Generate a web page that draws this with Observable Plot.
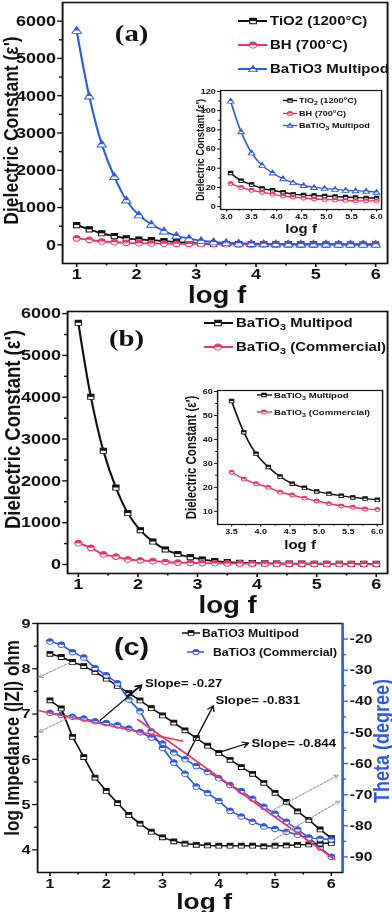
<!DOCTYPE html>
<html>
<head>
<meta charset="utf-8">
<script src="https://cdn.jsdelivr.net/npm/d3@7"></script>
<script src="https://cdn.jsdelivr.net/npm/@observablehq/plot@0.6"></script>
<style>
html,body{margin:0;padding:0;background:#fff;}
#wrap{position:relative;width:326.67px;height:912px;transform:scaleX(1.2);transform-origin:0 0;overflow:visible;}
</style>
</head>
<body>
<div id="wrap"></div>
<script>
// ---------- data ----------
const logfA = [1.00,1.21,1.42,1.63,1.83,2.04,2.25,2.46,2.67,2.88,3.08,3.29,3.50,3.71,3.92,4.13,4.33,4.54,4.75,4.96,5.17,5.38,5.58,5.79,6.00];
const epsTiO2 = [530,415,310,235,175,145,125,100,75,55,35,27,23,19,17,15,13,12,11.5,11,10.5,10,9.5,9,9];
const epsBH = [175,135,90,70,55,45,38,32,28,26,24,20,17,15,13,11,10,9,8,7.5,7,6.5,6,6,6];
const epsMultipodA = [5750,3990,2700,1830,1200,800,550,370,240,170,110,78,56,43,35,29,25,22,20,19,18,17,16.5,16,15];
const epsMultipodB = [5780,4010,2720,1840,1230,820,550,360,250,175,120,80,56,43,34,28.5,24.5,21.5,19.8,18.3,17.3,16.5,15.8,15.3,14.8];
const epsCommercial = [510,400,240,190,120,100,80,60,45,38,33,30,26.3,23.5,21.5,20,18,16.8,15.5,14.3,13.2,12.2,11.7,11,10.8];

const logfC = [1.0,1.2,1.4,1.6,1.8,2.0,2.2,2.4,2.6,2.8,3.0,3.2,3.4,3.6,3.8,4.0,4.2,4.4,4.6,4.8,5.0,5.2,5.4,5.6,5.8,6.0];
const logZMultipod = [8.33,8.26,8.15,8.06,7.93,7.78,7.62,7.46,7.30,7.13,6.97,6.81,6.64,6.47,6.30,6.14,5.99,5.83,5.68,5.48,5.26,5.06,4.85,4.66,4.45,4.26];
const logZCommercial = [7.03,6.98,6.94,6.90,6.84,6.80,6.75,6.68,6.60,6.48,6.35,6.15,6.00,5.85,5.72,5.58,5.43,5.30,5.13,4.95,4.80,4.62,4.45,4.27,4.05,3.85];
const thetaMultipod = [-39.7,-42.3,-51.4,-57.9,-64.5,-68.8,-72.7,-76.5,-79.3,-81.9,-83.7,-85.0,-85.7,-86.1,-86.3,-86.4,-86.4,-86.4,-86.4,-86.6,-86.4,-86.3,-86.1,-86.0,-85.7,-85.5];
const thetaCommercial = [-20.8,-21.8,-24.2,-25.9,-29.3,-31.6,-34.2,-39.4,-43.2,-49.6,-55.0,-59.7,-63.3,-67.4,-69.5,-72.0,-75.2,-77.0,-78.7,-80.2,-81.0,-81.9,-82.9,-83.8,-84.2,-84.4];

const fitLines = [
  {x1: 0.79, y1: 7.08, x2: 3.37, y2: 6.40},
  {x1: 2.55, y1: 6.89, x2: 6.07, y2: 3.78}
];
const slopeNotes = [
  {x: 2.69, y: 7.68, label: "Slope= -0.27"},
  {x: 3.94, y: 7.30, label: "Slope= -0.831"},
  {x: 4.58, y: 6.36, label: "Slope= -0.844"}
];
const noteArrows = [
  {x1: 1.89, y1: 6.86, x2: 2.63, y2: 7.64},
  {x1: 2.37, y1: 7.40, x2: 2.63, y2: 7.64},
  {x1: 3.44, y1: 6.09, x2: 3.90, y2: 7.18},
  {x1: 4.02, y1: 6.16, x2: 4.53, y2: 6.36}
];
const guideArrows = [
  {x1: 1.36, y1: 8.14, x2: 0.80, y2: 7.81},
  {x1: 1.41, y1: 6.97, x2: 0.80, y2: 6.60},
  {x1: 4.86, y1: 4.81, x2: 6.12, y2: 5.65},
  {x1: 4.97, y1: 4.22, x2: 6.15, y2: 5.08}
];

// ticks
const ticksLogf = [1,2,3,4,5,6];
const minorLogf = [1.5,2.5,3.5,4.5,5.5];
const ticksEps = [0,1000,2000,3000,4000,5000,6000];
const minorEps = [500,1500,2500,3500,4500,5500];
const ticksInsetX = [3.0,3.5,4.0,4.5,5.0,5.5,6.0];
const minorInsetX = [3.25,3.75,4.25,4.75,5.25,5.75];
const ticksInsetAY = [0,20,40,60,80,100,120];
const minorInsetAY = [10,30,50,70,90,110];
const ticksInsetBX = [3.5,4.0,4.5,5.0,5.5,6.0];
const ticksInsetBY = [10,20,30,40,50,60];
const minorInsetBY = [15,25,35,45,55];
const ticksZ = [4,5,6,7,8,9];
const minorZ = [4.5,5.5,6.5,7.5,8.5];
const ticksTheta = [-90,-80,-70,-60,-50,-40,-30,-20];
const minorTheta = [-85,-75,-65,-55,-45,-35,-25];

const legendA = ["TiO2 (1200°C)", "BH (700°C)", "BaTiO3 Multipod"];
const legendAInset = ["TiO₂ (1200°C)", "BH (700°C)", "BaTiO₃ Multipod"];
const legendB = ["BaTiO₃ Multipod", "BaTiO₃ (Commercial)"];
const legendC = ["BaTiO3 Multipod", "BaTiO3 (Commercial)"];

// ---------- styling ----------
const S = 1.2, W = 392 / S, X = v => v / S;
const INK = "#111111", RED = "#f4335f", BLUE = "#2f58ec", FIT = "#ff3050", GUIDE = "#93a5a5";
const FONT = "'Liberation Sans', Arial, Helvetica, sans-serif";
const SERIF = "'Liberation Serif', 'DejaVu Serif', serif";
const yTitle = "Dielectric Constant (ε')";
const wrap = document.getElementById("wrap");

function place(svg, left, top) {
  Object.assign(svg.style, {position: "absolute", left: left + "px", top: top + "px", background: "none",
    overflow: "visible", maxWidth: "none", fontFamily: FONT, color: INK});
  wrap.appendChild(svg);
}

function sym(kind, half) {
  return {
    draw(ctx, size) {
      const r = Math.sqrt(size / Math.PI);
      if (kind === "circle") {
        ctx.moveTo(r, 0);
        if (half) ctx.arc(0, 0, r, 0, Math.PI, true); else ctx.arc(0, 0, r, 0, 2 * Math.PI);
        ctx.closePath();
      } else if (kind === "square") {
        const s = r * 0.9;
        if (half) ctx.rect(-s, -s, 2 * s, s); else ctx.rect(-s, -s, 2 * s, 2 * s);
      } else {
        const a = 1.15 * r, b = 0.85 * r;
        if (half) { const w = a * a / (a + b); ctx.moveTo(0, -a); ctx.lineTo(w, 0); ctx.lineTo(-w, 0); }
        else { ctx.moveTo(0, -a); ctx.lineTo(a, b); ctx.lineTo(-a, b); }
        ctx.closePath();
      }
    }
  };
}

function series(xs, ys, color, kind, o = {}) {
  const data = xs.map((x, i) => ({x, y: ys[i]}));
  const r = o.r ?? 2.9;
  return [
    Plot.line(data, {x: "x", y: "y", stroke: color, strokeWidth: o.sw ?? 1.8, curve: o.curve ?? "catmull-rom"}),
    Plot.dot(data, {x: "x", y: "y", r, symbol: sym(kind, false), fill: "white", stroke: color, strokeWidth: 0.9}),
    Plot.dot(data, {x: "x", y: "y", r, symbol: sym(kind, true), fill: color})
  ];
}

function axisSet(o) {
  const common = {fontSize: o.fs, fontWeight: "bold", label: null, strokeWidth: o.sw ?? 1.4, stroke: INK, fill: INK};
  const tick = o.tick ?? 4, minor = o.minor ?? 2.5, pad = o.pad ?? 2;
  return [
    Plot.axisX(o.x, {...common, tickSize: tick, tickPadding: o.xpad ?? pad, tickFormat: o.xFmt ?? (d => String(d))}),
    Plot.axisX(o.xMinor, {...common, tickSize: minor, tickFormat: () => ""}),
    Plot.axisY(o.y, {...common, tickSize: tick, tickPadding: pad, tickFormat: o.yFmt ?? (d => String(d))}),
    Plot.axisY(o.yMinor, {...common, tickSize: minor, tickFormat: () => ""})
  ];
}

const centered = {textAnchor: "middle", lineAnchor: "middle", fontWeight: "bold", fill: INK};
const f1 = d3.format(".1f");

// ---------- panel (a) ----------
place(Plot.plot({
  width: W, height: 300, marginLeft: X(62), marginRight: X(5), marginTop: 2, marginBottom: 37,
  x: {domain: [0.765, 6.2]}, y: {domain: [-500, 6500]},
  marks: [
    Plot.frame({stroke: INK, strokeWidth: 1.6}),
    ...axisSet({x: ticksLogf, xMinor: minorLogf, y: ticksEps, yMinor: minorEps, fs: 15, pad: 1.5, xpad: 0.5}),
    ...series(logfA, epsTiO2, INK, "square"),
    ...series(logfA, epsBH, RED, "circle"),
    ...series(logfA, epsMultipodA, BLUE, "triangle", {r: 3.4}),
    Plot.text([yTitle], {...centered, frameAnchor: "left", rotate: -90, dx: X(11 - 62), dy: -2.5, fontSize: 17.5}),
    Plot.text(["log f"], {...centered, frameAnchor: "bottom", dx: X(-8), dy: 32, fontSize: 23}),
    Plot.text(["(a)"], {...centered, frameAnchor: "top-left", dx: X(131 - 62), dy: 31, fontSize: 24, fontFamily: SERIF})
  ]
}), 0, 0);

// inset (a)
place(Plot.plot({
  width: X(392 - 180), height: 160, marginLeft: X(220 - 180), marginRight: X(392 - 381), marginTop: 10, marginBottom: 31,
  x: {domain: [2.88, 6.1]}, y: {domain: [-3, 121]},
  marks: [
    Plot.frame({fill: "white", stroke: INK, strokeWidth: 1.2}),
    ...axisSet({x: ticksInsetX, xMinor: minorInsetX, y: ticksInsetAY, yMinor: minorInsetAY, fs: 7.5, xFmt: f1, tick: 2.5, minor: 1.5, pad: 1.5, sw: 1}),
    ...series(logfA.slice(10), epsTiO2.slice(10), INK, "square", {r: 2, sw: 1.4}),
    ...series(logfA.slice(10), epsBH.slice(10), RED, "circle", {r: 2, sw: 1.4}),
    ...series(logfA.slice(10), epsMultipodA.slice(10), BLUE, "triangle", {r: 2.4, sw: 1.4}),
    Plot.text([yTitle], {...centered, frameAnchor: "left", rotate: -90, dx: X(200 - 220), fontSize: 9.5}),
    Plot.text(["log f"], {...centered, frameAnchor: "bottom", dy: 20, fontSize: 12.5})
  ]
}), X(180), 80);

// ---------- panel (b) ----------
place(Plot.plot({
  width: W, height: 312, marginLeft: X(67), marginRight: X(5), marginTop: 11, marginBottom: 39,
  x: {domain: [0.82, 6.19]}, y: {domain: [-215, 6050]},
  marks: [
    Plot.frame({stroke: INK, strokeWidth: 1.6}),
    ...axisSet({x: ticksLogf, xMinor: minorLogf, y: ticksEps, yMinor: minorEps, fs: 15, pad: 1.5, xpad: 0.5}),
    ...series(logfA, epsMultipodB, INK, "square"),
    ...series(logfA, epsCommercial, RED, "circle"),
    Plot.text([yTitle], {...centered, frameAnchor: "left", rotate: -90, dx: X(12.5 - 67), dy: -13, fontSize: 18.5}),
    Plot.text(["log f"], {...centered, frameAnchor: "bottom", dy: 32.5, fontSize: 23}),
    Plot.text(["(b)"], {...centered, frameAnchor: "top-left", dx: X(126 - 67), dy: 27, fontSize: 24, fontFamily: SERIF})
  ]
}), 0, 300);

// inset (b)
place(Plot.plot({
  width: X(392 - 180), height: 180, marginLeft: X(217 - 180), marginRight: X(392 - 382), marginTop: 10, marginBottom: 36,
  x: {domain: [3.26, 6.09]}, y: {domain: [4.5, 60.4]},
  marks: [
    Plot.frame({fill: "white", stroke: INK, strokeWidth: 1.2}),
    ...axisSet({x: ticksInsetBX, xMinor: minorInsetX.slice(1), y: ticksInsetBY, yMinor: minorInsetBY, fs: 7.5, xFmt: f1, tick: 2.5, minor: 1.5, pad: 1.5, sw: 1}),
    ...series(logfA.slice(12), epsMultipodB.slice(12), INK, "square", {r: 2, sw: 1.4}),
    ...series(logfA.slice(12), epsCommercial.slice(12), RED, "circle", {r: 2, sw: 1.4}),
    Plot.text([yTitle], {...centered, frameAnchor: "left", rotate: -90, dx: X(191 - 217), fontSize: 11.5}),
    Plot.text(["log f"], {...centered, frameAnchor: "bottom", dy: 21, fontSize: 12.5})
  ]
}), X(180), 380);

// ---------- panel (c) ----------
const cLayout = {width: W, height: 312, marginLeft: X(37), marginRight: X(50), marginTop: 23, marginBottom: 40};
const cx = {domain: [0.78, 6.2]};

place(Plot.plot({
  ...cLayout, x: cx, y: {domain: [3.5, 9]},
  marks: [
    Plot.frame({stroke: INK, strokeWidth: 1.5}),
    Plot.axisX(ticksLogf, {fontSize: 13.5, fontWeight: "bold", label: null, tickSize: 4, tickPadding: 1.5, strokeWidth: 1.3, tickFormat: d => String(d)}),
    Plot.axisX(minorLogf, {label: null, tickSize: 2.5, strokeWidth: 1.3, tickFormat: () => ""}),
    Plot.axisY(ticksZ, {fontSize: 13.5, fontWeight: "bold", label: null, tickSize: 4, tickPadding: 2, strokeWidth: 1.3, tickFormat: d => String(d)}),
    Plot.axisY(minorZ, {label: null, tickSize: 2.5, strokeWidth: 1.3, tickFormat: () => ""}),
    ...series(logfC, logZMultipod, INK, "square", {r: 2.7, sw: 1.5, curve: "linear"}),
    ...series(logfC, logZCommercial, BLUE, "circle", {r: 2.8, sw: 1.5, curve: "linear"}),
    Plot.text(["log Impedance (|Z|) ohm"], {...centered, frameAnchor: "left", rotate: -90, dx: X(11.5 - 37), dy: -10, fontSize: 17}),
    Plot.text(["log f"], {...centered, frameAnchor: "bottom", dx: X(14), dy: 29.5, fontSize: 22}),
    Plot.text(["(c)"], {...centered, frameAnchor: "top-left", dx: X(131 - 37), dy: 24, fontSize: 24})
  ]
}), 0, 600);

place(Plot.plot({
  ...cLayout, x: {...cx, axis: null}, y: {domain: [-95, -15]},
  marks: [
    ...series(logfC, thetaMultipod, INK, "square", {r: 2.7, sw: 1.5, curve: "linear"}),
    ...series(logfC, thetaCommercial, BLUE, "circle", {r: 2.8, sw: 1.5, curve: "linear"}),
    Plot.ruleX([6.2], {stroke: BLUE, strokeWidth: 1.8}),
    Plot.axisY(ticksTheta, {anchor: "right", fontSize: 13, fontWeight: "bold", label: null, tickSize: 4, tickPadding: 2, stroke: BLUE, fill: INK, strokeWidth: 1.3, tickFormat: d => String(d)}),
    Plot.axisY(minorTheta, {anchor: "right", label: null, tickSize: 2.5, stroke: BLUE, strokeWidth: 1.3, tickFormat: () => ""}),
    Plot.text(["Theta (degree)"], {...centered, fill: BLUE, frameAnchor: "right", rotate: -90, dx: X(39), dy: -7, fontSize: 18})
  ]
}), 0, 600);

place(Plot.plot({
  ...cLayout, x: {...cx, axis: null}, y: {domain: [3.5, 9], axis: null},
  marks: [
    Plot.link(fitLines, {x1: "x1", y1: "y1", x2: "x2", y2: "y2", stroke: FIT, strokeWidth: 1.6}),
    Plot.arrow(guideArrows, {x1: "x1", y1: "y1", x2: "x2", y2: "y2", stroke: GUIDE, strokeWidth: 1.1, strokeDasharray: "2,1.5", headLength: 5}),
    Plot.arrow(noteArrows, {x1: "x1", y1: "y1", x2: "x2", y2: "y2", stroke: INK, strokeWidth: 1.2, headLength: 7}),
    Plot.text(slopeNotes, {x: "x", y: "y", text: "label", textAnchor: "start", lineAnchor: "middle", fontSize: 11, fontWeight: "bold", fill: INK})
  ]
}), 0, 600);

// ---------- legends ----------
const ov = d3.select(wrap).append("svg").attr("width", W).attr("height", 912)
  .style("position", "absolute").style("left", "0px").style("top", "0px")
  .style("overflow", "visible").style("font-family", FONT);

const SUB = "₀₁₂₃₄₅₆₇₈₉";
function writeLabel(textSel, label) {
  const parts = label.split(/([₀-₉])/).filter(p => p !== "");
  let shifted = false;
  parts.forEach(p => {
    const i = SUB.indexOf(p);
    if (i >= 0) {
      textSel.append("tspan").attr("dy", "0.3em").attr("font-size", "75%").text(String(i));
      shifted = true;
    } else {
      const t = textSel.append("tspan").text(p);
      if (shifted) { t.attr("dy", "-0.22em"); shifted = false; }
    }
  });
}

function pick(v, i) { return Array.isArray(v) && typeof v[0] !== "number" ? v[i] : v; }
function pickNum(v, i) { return Array.isArray(v) ? v[i] : v; }

function legend(labels, colors, kinds, o) {
  labels.forEach((label, i) => {
    const y = o.rows[i], color = colors[i], kind = kinds[i];
    const line = pick(o.line, i), mark = pickNum(o.mark, i), tx = pickNum(o.text, i);
    const g = ov.append("g");
    g.append("line").attr("x1", X(line[0])).attr("x2", X(line[1])).attr("y1", y).attr("y2", y)
      .attr("stroke", color).attr("stroke-width", o.sw);
    const size = Math.PI * o.r * o.r;
    g.append("path").attr("transform", `translate(${X(mark)},${y})`).attr("d", d3.symbol(sym(kind, false), size)())
      .attr("fill", "white").attr("stroke", color).attr("stroke-width", 0.9);
    g.append("path").attr("transform", `translate(${X(mark)},${y})`).attr("d", d3.symbol(sym(kind, true), size)())
      .attr("fill", color);
    const t = g.append("text").attr("x", X(tx)).attr("y", y + o.fs * 0.35).attr("font-size", o.fs)
      .attr("font-weight", "bold").attr("fill", INK);
    writeLabel(t, label);
  });
}

legend(legendA, [INK, RED, BLUE], ["square", "circle", "triangle"], {rows: [21, 45, 69], line: [238, 267], mark: 253, text: 270, fs: 12.5, r: 3.1, sw: 2});
legend(legendAInset, [INK, RED, BLUE], ["square", "circle", "triangle"], {rows: [100.5, 113.5, 125.5], line: [283, 297], mark: 290, text: 299, fs: 7.6, r: 2, sw: 1.4});
legend(legendB, [INK, RED], ["square", "circle"], {rows: [323, 347], line: [204, 233], mark: 218, text: 236, fs: 12.5, r: 3.1, sw: 2});
legend(legendB, [INK, RED], ["square", "circle"], {rows: [395, 412], line: [257, 272], mark: 264, text: 274, fs: 8, r: 2, sw: 1.4});
legend(legendC, [INK, BLUE], ["square", "circle"], {rows: [633, 652], line: [[182, 200], [187, 204]], mark: [191, 196], text: [202, 213], fs: 10.2, r: 2.6, sw: 1.5});
</script>
</body>
</html>
